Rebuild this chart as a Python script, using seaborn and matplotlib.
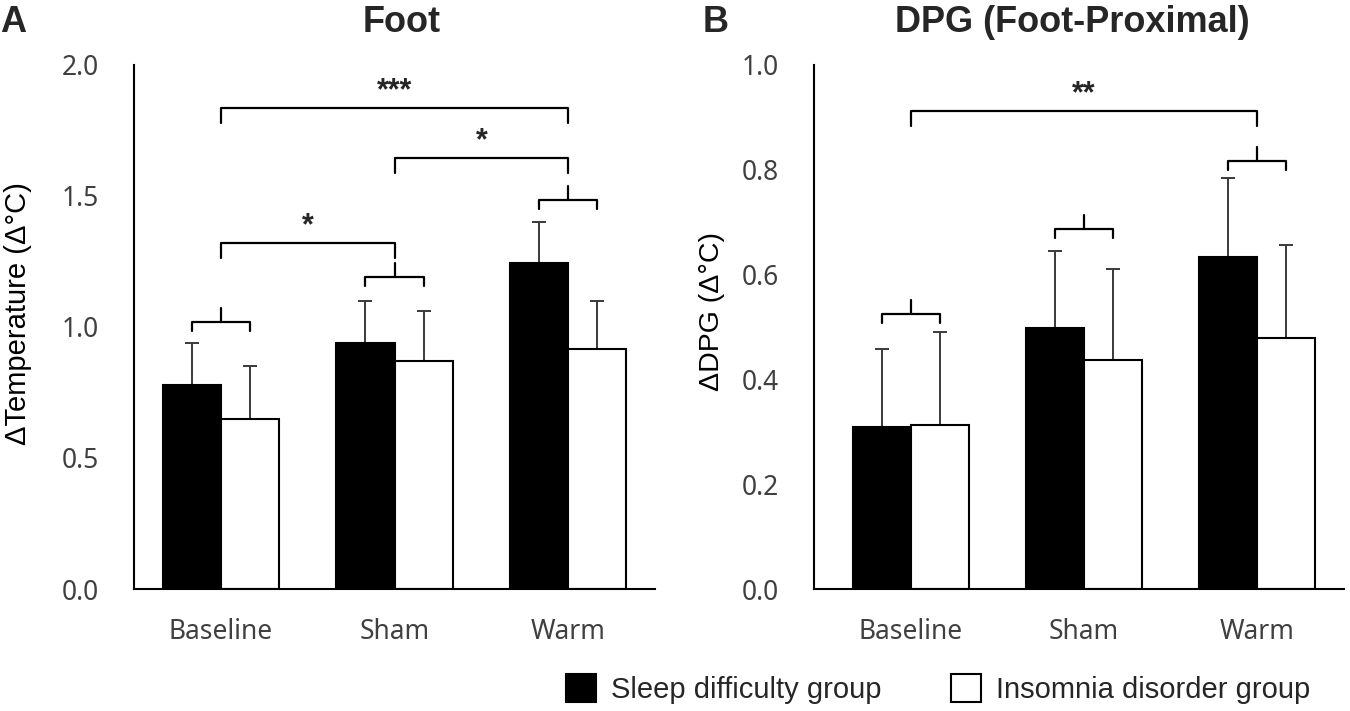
import numpy as np
import pandas as pd
import matplotlib
matplotlib.use("Agg")
import matplotlib.pyplot as plt
import seaborn as sns
from matplotlib.patches import Patch
from matplotlib.ticker import FormatStrFormatter

# categories
conditions = ["Baseline", "Sham", "Warm"]
groups = ["Sleep difficulty group", "Insomnia disorder group"]

# panel A: foot temperature change
foot_sleep = [0.78, 0.94, 1.245]
foot_insomnia = [0.65, 0.87, 0.915]
foot_sleep_err = [0.16, 0.16, 0.155]
foot_insomnia_err = [0.20, 0.19, 0.185]

# panel B: DPG (foot-proximal)
dpg_sleep = [0.309, 0.498, 0.634]
dpg_insomnia = [0.313, 0.437, 0.479]
dpg_sleep_err = [0.149, 0.147, 0.150]
dpg_insomnia_err = [0.177, 0.174, 0.177]

# significance between conditions: (from, to, label)
foot_sig = [(0, 2, "***"), (1, 2, "*"), (0, 1, "*")]
dpg_sig = [(0, 2, "**")]

sns.set_style("white")
plt.rcParams["font.family"] = ["Noto Sans", "DejaVu Sans"]
bold_font = ["Liberation Sans", "DejaVu Sans"]

fig = plt.figure(figsize=(13.5, 7.11), dpi=100)
axA = fig.add_axes([134 / 1350, 1 - 589 / 711, 521 / 1350, 524 / 711])
axB = fig.add_axes([813.6 / 1350, 1 - 589 / 711, 530 / 1350, 524 / 711])


def make_df(sleep, insomnia):
    return pd.DataFrame({
        "condition": conditions * 2,
        "group": [groups[0]] * 3 + [groups[1]] * 3,
        "value": list(sleep) + list(insomnia),
    })


def draw_panel(ax, sleep, insomnia, sleep_err, insomnia_err, ymax, step, xleft):
    df = make_df(sleep, insomnia)
    sns.barplot(data=df, x="condition", y="value", hue="group", order=conditions,
                hue_order=groups, palette=["black", "white"], saturation=1,
                edgecolor="black", linewidth=1.5, width=0.67, errorbar=None,
                legend=False, ax=ax)
    bars = sorted(ax.patches, key=lambda p: p.get_x())
    xs = [b.get_x() + b.get_width() / 2 for b in bars]
    tops = [b.get_height() for b in bars]
    errs = []
    for s, i in zip(sleep_err, insomnia_err):
        errs += [s, i]
    ax.errorbar(xs, tops, yerr=[np.zeros(len(errs)), errs], fmt="none",
                ecolor="#3a3a3a", elinewidth=1.4, capsize=4.7, capthick=1.4,
                zorder=0.5)
    ax.set_xlim(xleft, 2.5)
    ax.set_ylim(0, ymax)
    ax.set_yticks(np.arange(0, ymax + step / 2, step))
    ax.yaxis.set_major_formatter(FormatStrFormatter("%.1f"))
    ax.set_xlabel("")
    for side in ["top", "right"]:
        ax.spines[side].set_visible(False)
    for side in ["left", "bottom"]:
        ax.spines[side].set_linewidth(1.5)
        ax.spines[side].set_color("black")
    ax.tick_params(axis="y", direction="out", length=7, width=1.5, pad=18,
                   labelsize=19, labelcolor="#404040", color="black")
    ax.tick_params(axis="x", length=0, pad=21, labelsize=19, labelcolor="#404040")
    return xs


def brace(ax, x1, x2, y, px):
    # small bracket over the two bars of one condition
    ax.plot([x1, x1, x2, x2], [y - 9 * px, y, y, y - 9 * px], color="black", lw=1.6)
    xm = (x1 + x2) / 2
    ax.plot([xm, xm], [y, y + 14 * px], color="black", lw=1.6)


def sig_bracket(ax, x1, x2, y, label, px):
    ax.plot([x1, x1, x2, x2], [y - 15 * px, y, y, y - 15 * px], color="black", lw=1.6)
    ax.text((x1 + x2) / 2, y + 2 * px, label, ha="center", va="bottom",
            fontsize=22, fontweight="bold", family=bold_font)


# Panel A
xsA = draw_panel(axA, foot_sleep, foot_insomnia, foot_sleep_err, foot_insomnia_err,
                 2.0, 0.5, -0.5)
pxA = 2.0 / 524
for k, y in enumerate([1.02, 1.19, 1.485]):
    brace(axA, xsA[2 * k], xsA[2 * k + 1], y, pxA)
for (a, b, lab), y in zip(foot_sig, [1.836, 1.645, 1.32]):
    sig_bracket(axA, a, b, y, lab, pxA)
axA.set_ylabel("ΔTemperature (Δ°C)", fontsize=21, family=bold_font, color="black")
axA.yaxis.set_label_coords(-0.196, 0.525)
axA.set_title("Foot", fontsize=26, fontweight="bold", family=bold_font, pad=24, x=0.514)

# Panel B
xsB = draw_panel(axB, dpg_sleep, dpg_insomnia, dpg_sleep_err, dpg_insomnia_err,
                 1.0, 0.2, -0.56)
pxB = 1.0 / 524
for k, y in enumerate([0.525, 0.687, 0.817]):
    brace(axB, xsB[2 * k], xsB[2 * k + 1], y, pxB)
for (a, b, lab), y in zip(dpg_sig, [0.912]):
    sig_bracket(axB, a, b, y, lab, pxB)
axB.set_ylabel("ΔDPG (Δ°C)", fontsize=20.5, family=bold_font, color="black")
axB.yaxis.set_label_coords(-0.167, 0.529)
axB.set_title("DPG (Foot-Proximal)", fontsize=26, fontweight="bold", family=bold_font,
              pad=24, x=0.489)

# panel letters
fig.text(0.0, 1 - 32 / 711, "A", fontsize=26, fontweight="bold", family=bold_font,
         va="baseline")
fig.text(703 / 1350, 1 - 32 / 711, "B", fontsize=26, fontweight="bold", family=bold_font,
         va="baseline")

# legend
handles = [Patch(facecolor="black", edgecolor="black", linewidth=1.5),
           Patch(facecolor="white", edgecolor="black", linewidth=1.5)]
fig.legend(handles, groups, loc="center", bbox_to_anchor=(938 / 1350, 1 - 689 / 711),
           ncol=2, frameon=False,
           prop={"family": bold_font, "size": 21},
           handlelength=1.03, handleheight=1.1, handletextpad=0.5, columnspacing=2.4,
           borderaxespad=0, borderpad=0)

fig.savefig("out.png", dpi=100)
